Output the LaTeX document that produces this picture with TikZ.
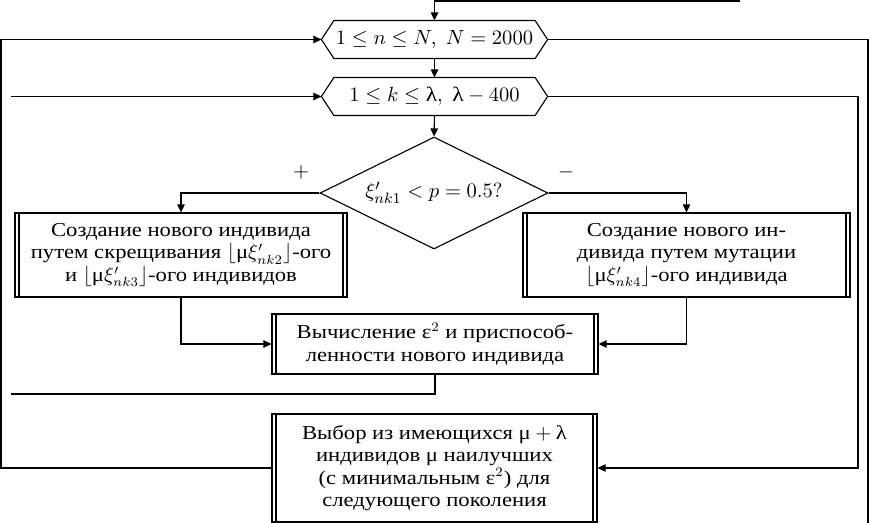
\documentclass[tikz,border=0pt]{standalone}
\usepackage[no-math]{fontspec}
\setmainfont{Liberation Serif}[FakeStretch=1.15]
\usetikzlibrary{shapes.geometric,arrows.meta}
\newcommand\umu{\mbox{μ}}
\newcommand\ulam{\mbox{λ}}
\newcommand\ueps{\mbox{ε}}
\begin{document}
\begin{tikzpicture}[x=0.5333pt,y=-0.5333pt, line width=0.6pt,
  >={Triangle[length=4.3pt,width=4pt]},
  pbox/.style={draw, rectangle, inner sep=0pt, align=center,
     font=\fontsize{10.5}{12}\selectfont,
     path picture={
       \draw ([xshift=2.13pt]path picture bounding box.north west) -- ([xshift=2.13pt]path picture bounding box.south west);
       \draw ([xshift=-2.13pt]path picture bounding box.north east) -- ([xshift=-2.13pt]path picture bounding box.south east);}},
  hexcore/.style={rectangle, inner sep=0pt, minimum width=106.7pt, minimum height=19.7pt,
     font=\fontsize{10.95}{12}\selectfont},
  dec/.style={diamond, draw, inner sep=0pt, aspect=3, minimum width=121.6pt, minimum height=59.7pt,
     font=\fontsize{10.95}{12}\selectfont},
  lbl/.style={inner sep=0pt, font=\fontsize{10.95}{12}\selectfont}]
\useasboundingbox (0,0) rectangle (869,523);

% hexagons (loop headers)
\node[hexcore] (h1) at (434.5,39.5) {$1 \le n \le N,\ N = 2000$};
\draw (h1.north west) -- (h1.north east) -- ([xshift=6.67pt]h1.east) coordinate (h1r)
  -- (h1.south east) -- (h1.south west) -- ([xshift=-6.67pt]h1.west) coordinate (h1l) -- cycle;
\node[hexcore] (h2) at (434.5,96.5) {$1 \le k \le \ulam,\ \ulam - 400$};
\draw (h2.north west) -- (h2.north east) -- ([xshift=6.67pt]h2.east) coordinate (h2r)
  -- (h2.south east) -- (h2.south west) -- ([xshift=-6.67pt]h2.west) coordinate (h2l) -- cycle;

% decision
\node[dec] (dia) at (434,193) {$\xi'_{nk1} < p = 0.5?$};
\node[lbl] (plus) at (301,172) {$+$};
\node[lbl] (minus) at (566,172) {$-$};

% process boxes
\node[pbox, minimum width=177.1pt, minimum height=44.8pt] (lbox) at (181,255)
  {Создание нового индивида\\путем скрещивания $\lfloor\umu\xi'_{nk2}\rfloor$-ого\\и $\lfloor\umu\xi'_{nk3}\rfloor$-ого индивидов};
\node[pbox, minimum width=174.4pt, minimum height=44.8pt] (rbox) at (686.5,255)
  {Создание нового ин-\\дивида путем мутации\\$\lfloor\umu\xi'_{nk4}\rfloor$-ого индивида};
\node[pbox, minimum width=173.9pt, minimum height=32pt] (mbox) at (435,344)
  {Вычисление $\ueps^2$ и приспособ-\\ленности нового индивида};
\node[pbox, minimum width=173.3pt, minimum height=57.6pt] (bbox) at (434.5,468)
  {Выбор из имеющихся $\umu+\ulam$\\индивидов \umu{} наилучших\\(с минимальным $\ueps^2$) для\\следующего поколения};

% free ends and corners
\coordinate (top) at (740,1);
\coordinate (cl) at (1,39.5);
\coordinate (lt) at (11,96.5);
\coordinate (lb) at (11,394);
\coordinate (cr) at (868,39.5);
\coordinate (crb) at (868,523);
\coordinate (cr2) at (858,96.5);

% connectors
\draw[->] (top) -| (h1.north);
\draw[->] (h1.south) -- (h2.north);
\draw[->] (h2.south) -- (dia.north);
\draw[->] (dia.west) -| (lbox.north);
\draw[->] (dia.east) -| (rbox.north);
\draw[->] (lbox.south) |- (mbox.west);
\draw[->] (rbox.south) |- (mbox.east);
\draw (mbox.south) |- (lb);
\draw[->] (lt) -- (h2l);
\draw[->] (bbox.west) -| (cl) -- (h1l);
\draw (h1r) -- (cr) -- (crb);
\draw[->] (h2r) -- (cr2) |- (bbox.east);
\end{tikzpicture}
\end{document}
